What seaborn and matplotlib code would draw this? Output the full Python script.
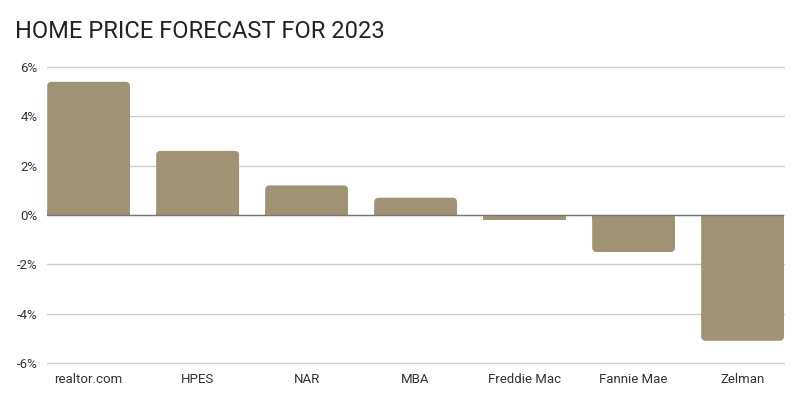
import matplotlib
matplotlib.use("Agg")
import matplotlib.pyplot as plt
from matplotlib.patches import FancyBboxPatch, Rectangle
from matplotlib.ticker import FuncFormatter
import seaborn as sns
import pandas as pd

categories = ["realtor.com", "HPES", "NAR", "MBA", "Freddie Mac", "Fannie Mae", "Zelman"]
values = [5.4, 2.6, 1.2, 0.7, -0.2, -1.5, -5.1]
y_ticks = [-6, -4, -2, 0, 2, 4, 6]
title = "HOME PRICE FORECAST FOR 2023"

bar_color = "#A09274"

sns.set_theme(style="white")
plt.rcParams["font.family"] = ["Roboto", "DejaVu Sans"]

df = pd.DataFrame({"source": categories, "change": values})

fig = plt.figure(figsize=(8, 4), dpi=100)
ax = fig.add_axes([0.059, 0.0925, 0.921, 0.74])

bar_w = 0.76
sns.barplot(data=df, x="source", y="change", color=bar_color, width=bar_w,
            saturation=1, ax=ax, zorder=3)

ax.set_xlim(-bar_w / 2, len(categories) - 1 + bar_w / 2)
ax.set_ylim(-6, 6)
ax.set_yticks(y_ticks)
ax.yaxis.set_major_formatter(FuncFormatter(lambda v, p: f"{int(v)}%"))
ax.set_xlabel("")
ax.set_ylabel("")
ax.grid(axis="y", color="#CCCCCC", linewidth=1, zorder=0)
for gl in ax.get_ygridlines():
    gl.set_clip_on(False)
ax.axhline(0, color="#777777", linewidth=1, zorder=4)
for s in ax.spines.values():
    s.set_visible(False)
ax.tick_params(axis="both", length=0, labelsize=9.5, colors="#333333")
ax.tick_params(axis="y", pad=7)
ax.tick_params(axis="x", pad=7)

# Rounded bars (far end rounded, zero end square)
fig.canvas.draw()
px_per_x = ax.transData.transform((1, 0))[0] - ax.transData.transform((0, 0))[0]
px_per_y = ax.transData.transform((0, 1))[1] - ax.transData.transform((0, 0))[1]
r_px = 4.5
r_x = r_px / px_per_x
aspect = px_per_x / px_per_y
for p in list(ax.patches):
    x0, y0 = p.get_x(), p.get_y()
    w, h = p.get_width(), p.get_height()
    p.set_visible(False)
    ylo, yhi = min(y0, y0 + h), max(y0, y0 + h)
    fb = FancyBboxPatch((x0, ylo), w, yhi - ylo,
                        boxstyle=f"round,pad=0,rounding_size={r_x}",
                        mutation_aspect=aspect,
                        facecolor=bar_color, edgecolor="none", zorder=3)
    ax.add_patch(fb)
    hh = min(abs(h), r_px / px_per_y * 1.2)
    if h >= 0:
        sq = Rectangle((x0, 0), w, hh, facecolor=bar_color, edgecolor="none", zorder=3)
    else:
        sq = Rectangle((x0, -hh), w, hh, facecolor=bar_color, edgecolor="none", zorder=3)
    ax.add_patch(sq)

fig.text(15 / 800, 1 - 31 / 400, title, fontsize=17, color="#222222",
         ha="left", va="center")

fig.savefig("out.png", dpi=100)
